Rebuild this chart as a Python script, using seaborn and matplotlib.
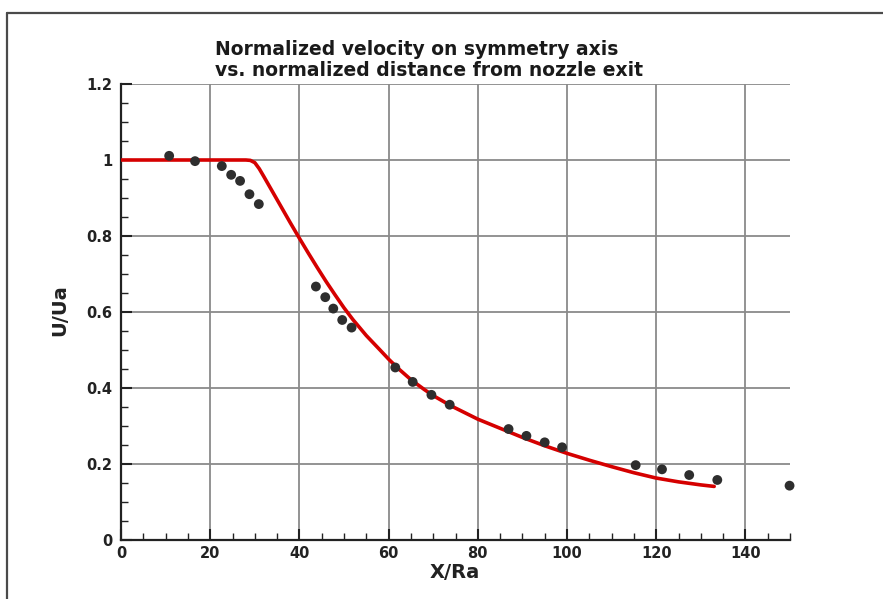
import matplotlib
matplotlib.use("Agg")
import matplotlib.pyplot as plt
import seaborn as sns
import pandas as pd
from matplotlib.ticker import MultipleLocator, FixedLocator, FixedFormatter
from matplotlib.lines import Line2D

# ---- data ----
curve_x = [0, 27, 28, 29, 30, 31, 32, 34, 36, 38, 40, 42, 44, 46, 48, 50,
           52, 55, 58, 60, 62, 65, 68, 70, 74, 80, 85, 90, 95, 100, 105,
           110, 115, 120, 125, 130, 133]
curve_y = [1.0, 1.0, 1.0, 0.999, 0.993, 0.977, 0.957, 0.916, 0.875, 0.834,
           0.794, 0.755, 0.717, 0.680, 0.645, 0.611, 0.580, 0.538, 0.501,
           0.476, 0.453, 0.422, 0.396, 0.380, 0.353, 0.318, 0.294, 0.270,
           0.248, 0.228, 0.210, 0.193, 0.177, 0.163, 0.153, 0.145, 0.141]

exp_x = [10.8, 16.6, 22.6, 24.7, 26.7, 28.8, 30.9,
         43.7, 45.8, 47.6, 49.6, 51.7, 61.5, 65.4, 69.6, 73.7,
         86.9, 90.9, 95.0, 98.9, 115.4, 121.3, 127.4, 133.7, 149.9]
exp_y = [1.011, 0.997, 0.984, 0.961, 0.945, 0.910, 0.884,
         0.667, 0.639, 0.609, 0.579, 0.559, 0.454, 0.416, 0.382, 0.356,
         0.292, 0.274, 0.257, 0.244, 0.197, 0.186, 0.171, 0.158, 0.143]

xticks = [0, 20, 40, 60, 80, 100, 120, 140]
xtick_labels = ["0", "20", "40", "60", "80", "100", "120", "140"]
yticks = [0, 0.2, 0.4, 0.6, 0.8, 1.0, 1.2]
ytick_labels = ["0", "0.2", "0.4", "0.6", "0.8", "1", "1.2"]

title_lines = ["Normalized velocity on symmetry axis",
               "vs. normalized distance from nozzle exit"]
xlabel = "X/Ra"
ylabel = "U/Ua"

curve_df = pd.DataFrame({"x": curve_x, "y": curve_y})
exp_df = pd.DataFrame({"x": exp_x, "y": exp_y})

# ---- style ----
sns.set_theme(style="white")
plt.rcParams["font.family"] = ["DejaVu Sans"]

W, H = 883, 599
fig = plt.figure(figsize=(W / 100, H / 100), dpi=100)
fig.patch.set_facecolor("white")

x0, x1 = 121, 790
y0, y1 = 540, 84
ax = fig.add_axes([x0 / W, 1 - y0 / H, (x1 - x0) / W, (y0 - y1) / H])
ax.set_facecolor("white")

ax.set_xlim(0, 150)
ax.set_ylim(0, 1.2)

# grid
ax.xaxis.set_major_locator(FixedLocator(xticks))
ax.xaxis.set_major_formatter(FixedFormatter(xtick_labels))
ax.yaxis.set_major_locator(FixedLocator(yticks))
ax.yaxis.set_major_formatter(FixedFormatter(ytick_labels))
ax.xaxis.set_minor_locator(MultipleLocator(5))
ax.yaxis.set_minor_locator(MultipleLocator(0.05))
ax.grid(True, which="major", color="#8a8a8a", linewidth=1.3)
ax.set_axisbelow(True)

sns.lineplot(data=curve_df, x="x", y="y", ax=ax, color="#d50000",
             linewidth=2.6, sort=False, zorder=3)
sns.scatterplot(data=exp_df, x="x", y="y", ax=ax, color="#2e2e2e",
                s=50, edgecolor="none", zorder=4, clip_on=False)

for side in ["top", "right"]:
    ax.spines[side].set_visible(False)
for side in ["left", "bottom"]:
    ax.spines[side].set_visible(True)
    ax.spines[side].set_color("#222222")
    ax.spines[side].set_linewidth(1.6)

ax.tick_params(which="major", direction="in", length=8, width=1.5,
               color="#222222", labelsize=10.5, labelcolor="#222222")
ax.tick_params(which="minor", direction="in", length=5, width=1.0,
               color="#222222")
ax.tick_params(axis="y", which="both", left=True, pad=6)
ax.tick_params(axis="x", which="both", bottom=True, pad=4)
for lab in ax.get_xticklabels() + ax.get_yticklabels():
    lab.set_fontweight("bold")

ax.set_xlabel("")
ax.set_ylabel("")

fig.text(455 / W, 1 - 572 / H, xlabel, ha="center", va="center",
         fontsize=14, fontweight="bold", color="#222222")
fig.text(60 / W, 1 - 310 / H, ylabel, ha="center", va="center",
         rotation=90, fontsize=14, fontweight="bold", color="#222222")

fig.text(215 / W, 1 - 55 / H, title_lines[0], ha="left", va="baseline",
         fontsize=13.5, fontweight="bold", color="#1a1a1a")
fig.text(215 / W, 1 - 76 / H, title_lines[1], ha="left", va="baseline",
         fontsize=13.5, fontweight="bold", color="#1a1a1a")

# outer frame (top and left edges)
fig.add_artist(Line2D([7 / W, 1.0], [1 - 13 / H, 1 - 13 / H],
                      transform=fig.transFigure, color="#4a4a4a", linewidth=1.6))
fig.add_artist(Line2D([7 / W, 7 / W], [1 - 13 / H, 0.0],
                      transform=fig.transFigure, color="#4a4a4a", linewidth=1.6))

fig.savefig("out.png", dpi=100, facecolor="white")
